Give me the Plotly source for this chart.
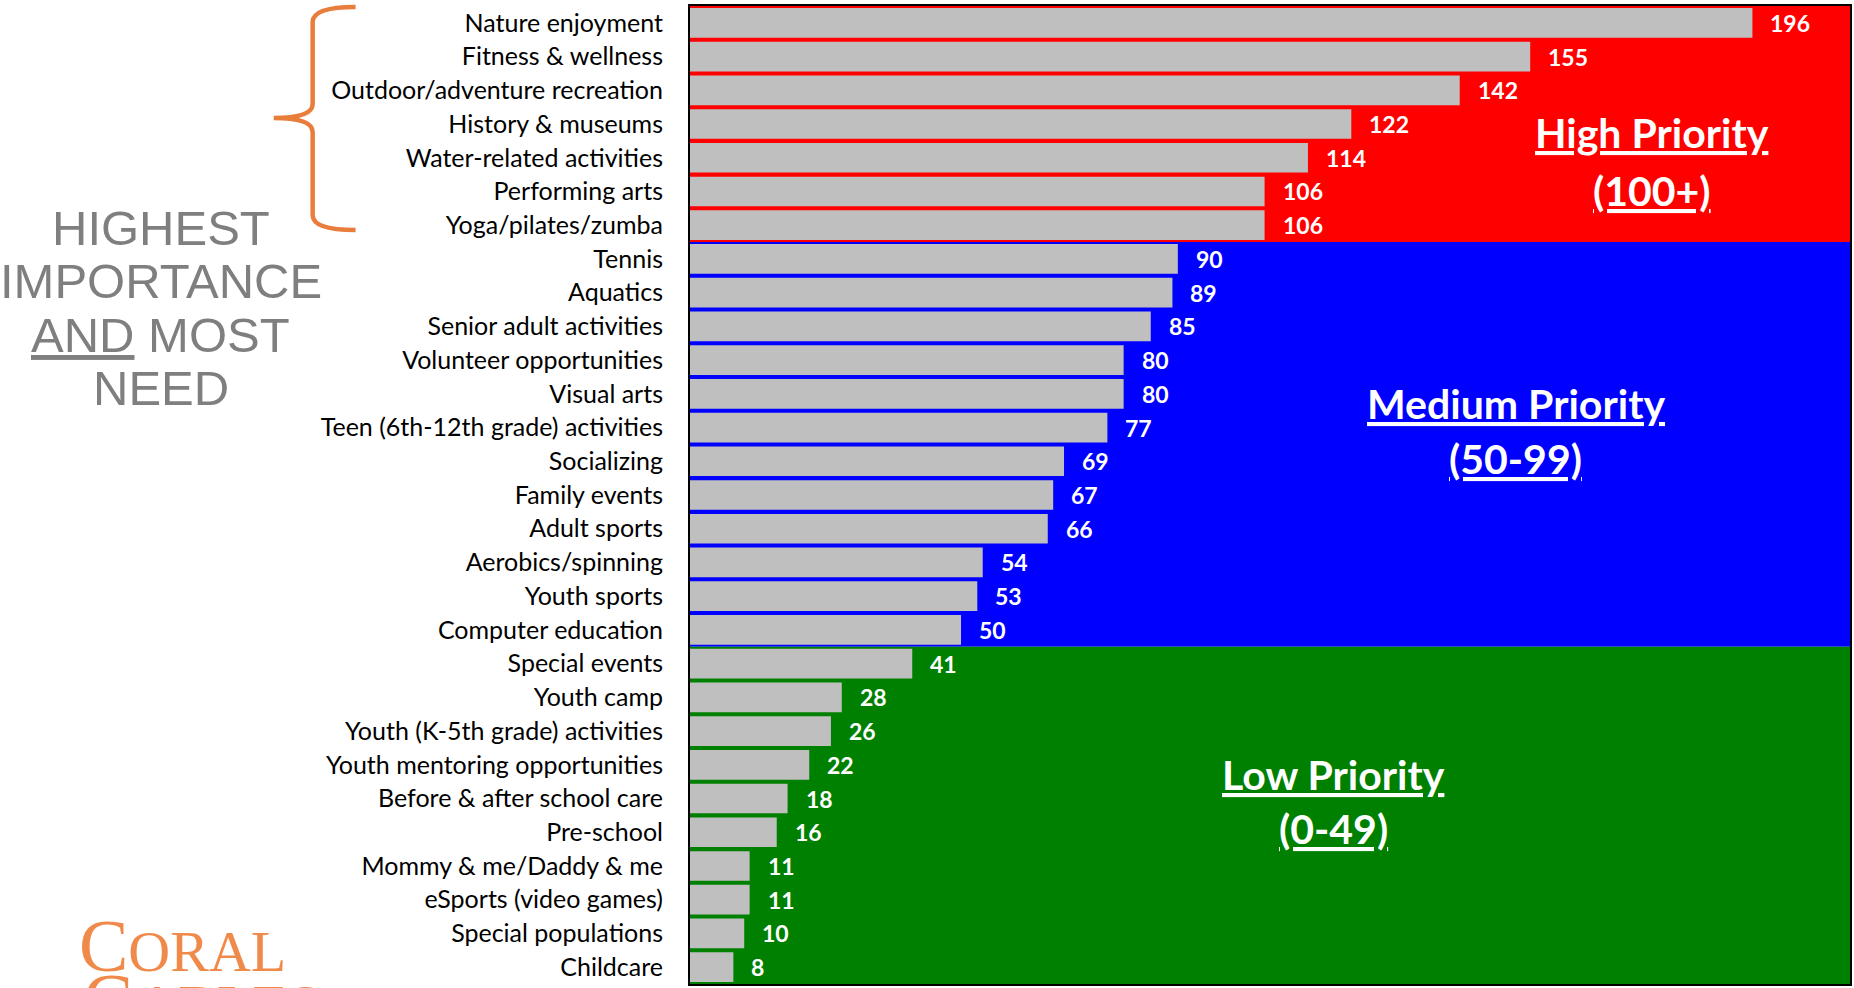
import plotly.graph_objects as go

# Program interest scores, highest first
categories = [
    "Nature enjoyment", "Fitness & wellness", "Outdoor/adventure recreation",
    "History & museums", "Water-related activities", "Performing arts",
    "Yoga/pilates/zumba", "Tennis", "Aquatics", "Senior adult activities",
    "Volunteer opportunities", "Visual arts", "Teen (6th-12th grade) activities",
    "Socializing", "Family events", "Adult sports", "Aerobics/spinning",
    "Youth sports", "Computer education", "Special events", "Youth camp",
    "Youth (K-5th grade) activities", "Youth mentoring opportunities",
    "Before & after school care", "Pre-school", "Mommy & me/Daddy & me",
    "eSports (video games)", "Special populations", "Childcare",
]
scores = [196, 155, 142, 122, 114, 106, 106, 90, 89, 85, 80, 80, 77, 69, 67,
          66, 54, 53, 50, 41, 28, 26, 22, 18, 16, 11, 11, 10, 8]

# Priority tiers: name, range label, lower threshold
tier_names = ["High Priority", "Medium Priority", "Low Priority"]
tier_ranges = ["(100+)", "(50-99)", "(0-49)"]
tier_floor = [100, 50, 0]
tier_colors = ["#FF0000", "#0000FF", "#008000"]

W, H = 1854, 988
ML, MR, MT, MB = 690, 2, 6, 4
PW, PH = W - ML - MR, H - MT - MB


def fx(px):
    return (px - ML) / PW


def fy(py):
    return 1 - (py - MT) / PH


fig = go.Figure()
fig.add_trace(go.Bar(
    x=scores, y=categories, orientation="h",
    marker=dict(color="#BFBFBF", line=dict(width=0)),
    hoverinfo="x+y",
))

shapes = []
annotations = []

# Coloured tier bands behind the bars
ceil = None
for name, rng, floor, col in zip(tier_names, tier_ranges, tier_floor, tier_colors):
    idx = [i for i, v in enumerate(scores) if v >= floor and (ceil is None or v < ceil)]
    ceil = floor
    shapes.append(dict(type="rect", xref="paper", yref="y", x0=0, x1=1,
                       y0=idx[0] - 0.5, y1=idx[-1] + 0.5,
                       fillcolor=col, line=dict(width=0), layer="below"))

# Tier captions
caption_pos = [(1654, 132, 191), (1517, 403, 458), (1335, 774, 828)]
for (cx, y1, y2), name, rng in zip(caption_pos, tier_names, tier_ranges):
    for txt, yy in ((name, y1), (rng, y2)):
        annotations.append(dict(
            xref="paper", yref="paper", x=fx(cx), y=fy(yy), text=txt,
            showarrow=False, xanchor="center", yanchor="middle",
            font=dict(family="Lato", size=41, color="white", weight="bold",
                      lineposition="under"),
        ))

# Value labels next to each bar
for cat, v in zip(categories, scores):
    annotations.append(dict(
        x=v, y=cat, xref="x", yref="y", text=str(v), showarrow=False,
        xanchor="left", yanchor="middle", xshift=16,
        font=dict(family="Lato", size=23, color="white", weight="bold"),
    ))

# Side note
side_lines = ["HIGHEST", "IMPORTANCE", "<u>AND</u> MOST", "NEED"]
for txt, yy in zip(side_lines, [228, 281, 335, 388]):
    annotations.append(dict(
        xref="paper", yref="paper", x=fx(160), y=fy(yy), text=txt,
        showarrow=False, xanchor="center", yanchor="middle",
        font=dict(family="Liberation Sans", size=49, color="#7F7F7F"),
    ))

# Brace grouping the top seven programs
bx = [fx(v) for v in (355, 312, 273)]
brace = (
    f"M {bx[0]},{fy(7)} Q {bx[1]},{fy(7)} {bx[1]},{fy(22)} "
    f"L {bx[1]},{fy(104)} Q {bx[1]},{fy(118)} {bx[2]},{fy(118)} "
    f"Q {bx[1]},{fy(118)} {bx[1]},{fy(132)} "
    f"L {bx[1]},{fy(215)} Q {bx[1]},{fy(230)} {bx[0]},{fy(230)}"
)
shapes.append(dict(type="path", xref="paper", yref="paper", path=brace,
                   line=dict(color="#E97E3C", width=4.5), layer="above"))

# City wordmark (second line runs off the bottom of the page)
logo_font = dict(family="Liberation Serif", size=58, color="#F08A4B")
annotations.append(dict(
    xref="paper", yref="paper", x=fx(76), y=fy(989),
    text="<span style='font-size:74px'>C</span>ORAL", showarrow=False,
    xanchor="left", yanchor="bottom", font=logo_font,
))
annotations.append(dict(
    xref="paper", yref="paper", x=fx(80), y=fy(957),
    text="<span style='font-size:74px'>G</span>ABLES", showarrow=False,
    xanchor="left", yanchor="top", font=logo_font,
))

fig.update_layout(
    width=W, height=H,
    margin=dict(l=ML, r=MR, t=MT, b=MB, pad=0),
    paper_bgcolor="white", plot_bgcolor="white",
    bargap=0.12, showlegend=False,
    shapes=shapes, annotations=annotations,
    xaxis=dict(range=[0, 214], showticklabels=False, showgrid=False,
               zeroline=False, showline=True, mirror=True,
               linecolor="black", linewidth=2, ticks=""),
    yaxis=dict(autorange="reversed", showgrid=False, zeroline=False,
               showline=True, mirror=True, linecolor="black", linewidth=2,
               ticks="", ticklabelstandoff=20,
               tickfont=dict(family="Lato", size=25, color="black")),
)

fig.write_html("out.html")
